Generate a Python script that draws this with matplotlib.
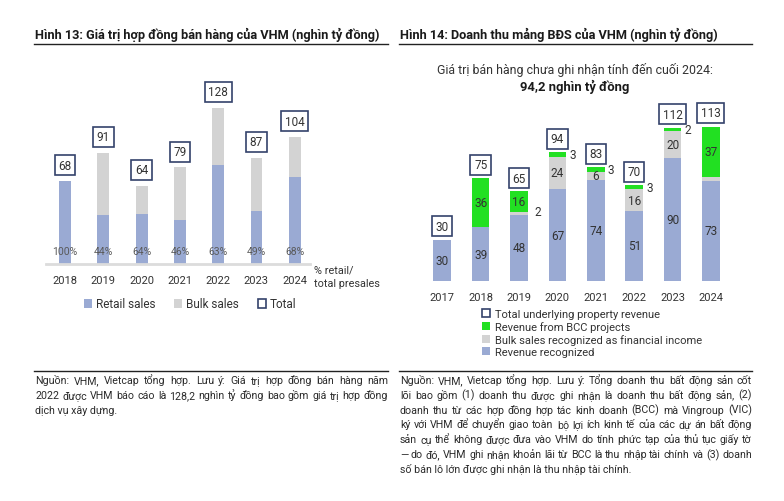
import matplotlib.pyplot as plt
from matplotlib.patches import Patch
from matplotlib.lines import Line2D

plt.rcParams['font.family'] = ['Roboto', 'DejaVu Sans']

# --- data: Hình 13 ---
years13 = ['2018', '2019', '2020', '2021', '2022', '2023', '2024']
total13 = [68, 91, 64, 79, 128, 87, 104]
retail13 = [68, 40, 41, 36, 81, 43, 71]
bulk13 = [t - r for t, r in zip(total13, retail13)]
pct13 = ['100%', '44%', '64%', '46%', '63%', '49%', '68%']

# --- data: Hình 14 ---
years14 = ['2017', '2018', '2019', '2020', '2021', '2022', '2023', '2024']
recog14 = [30, 39, 48, 67, 74, 51, 90, 73]
bulk14 = [0, 0, 2, 24, 6, 16, 20, 3]
bcc14 = [0, 36, 16, 3, 3, 3, 2, 37]
total14 = [30, 75, 65, 94, 83, 70, 112, 113]

C_BLUE = '#9aaad3'
C_GRAY = '#d3d3d3'
C_GREEN = '#22e022'
C_EDGE = '#34426b'
C_TXT = '#333333'

W, H = 784, 502
fig = plt.figure(figsize=(W / 100, H / 100), dpi=100)
renderer = fig.canvas.get_renderer()


def px(x, y, w, h):
    # pixel box (top-left origin) -> figure fraction
    return [x / W, 1 - (y + h) / H, w / W, h / H]


def fx(x):
    return x / W


def fy(y):
    return 1 - y / H


def justified(lines, x0, x1, y0, step, size):
    # chú thích căn đều hai bên như bản gốc
    for k, line in enumerate(lines):
        y = fy(y0 + k * step)
        if k == len(lines) - 1:
            fig.text(fx(x0), y, line, fontsize=size, color='#2a2a2a', va='baseline')
            continue
        words = line.split(' ')
        texts = [fig.text(0, y, w, fontsize=size, color='#2a2a2a', va='baseline') for w in words]
        widths = [t.get_window_extent(renderer).width for t in texts]
        gap = (x1 - x0 - sum(widths)) / (len(words) - 1)
        x = x0
        for t, wd in zip(texts, widths):
            t.set_x(fx(x))
            x += wd + gap


box = dict(boxstyle='square,pad=0.3', fc='white', ec=C_EDGE, lw=1.2)

# titles and rules
fig.text(fx(35), fy(35), 'Hình 13: Giá trị hợp đồng bán hàng của VHM (nghìn tỷ đồng)',
         fontsize=9.2, fontweight='bold', color='#1a1a1a', va='center', ha='left')
fig.text(fx(400), fy(35), 'Hình 14: Doanh thu mảng BĐS của VHM (nghìn tỷ đồng)',
         fontsize=9.2, fontweight='bold', color='#1a1a1a', va='center', ha='left')
for x0, x1 in [(34, 388), (399, 752)]:
    for yy in (45, 372):
        fig.add_artist(Line2D([fx(x0), fx(x1)], [fy(yy), fy(yy)], color='#222222', lw=1.0))

# ---------------- left chart ----------------
ax1 = fig.add_axes(px(46, 100, 264, 165))
xs = range(len(years13))
ax1.bar(xs, retail13, width=0.31, color=C_BLUE)
ax1.bar(xs, bulk13, width=0.31, bottom=retail13, color=C_GRAY)
ax1.set_xlim(-0.5, 6.4)
ax1.set_ylim(0, 135)
for i in xs:
    ax1.text(i, total13[i] + 13, str(total13[i]), ha='center', va='center',
             fontsize=8.5, color=C_TXT, bbox=box)
    ax1.text(i, 10.5, pct13[i], ha='center', va='center', fontsize=7.5, color='#5a5a5a')
ax1.set_xticks(list(xs))
ax1.set_xticklabels(years13, fontsize=8, color=C_TXT)
ax1.tick_params(length=0, pad=8)
ax1.set_yticks([])
for s in ['top', 'right', 'left']:
    ax1.spines[s].set_visible(False)
ax1.spines['bottom'].set_color('#dcdcdc')
ax1.spines['bottom'].set_linewidth(2)
fig.text(fx(314), fy(277), '% retail/\ntotal presales', fontsize=7.8, color=C_TXT,
         va='center', ha='left', linespacing=1.45)

leg1 = [Patch(fc=C_BLUE, label='Retail sales'),
        Patch(fc=C_GRAY, label='Bulk sales'),
        Patch(fc='white', ec=C_EDGE, lw=1.2, label='Total')]
fig.legend(handles=leg1, loc='center', bbox_to_anchor=(fx(190), fy(305)), ncol=3,
           frameon=False, fontsize=8.5, handlelength=0.7, handleheight=0.7,
           handletextpad=0.3, columnspacing=1.6, labelcolor=C_TXT)

# ---------------- right chart ----------------
ax2 = fig.add_axes(px(420, 118, 314, 163.7))
xs2 = range(len(years14))
bw = 0.46
bot2 = [r + b for r, b in zip(recog14, bulk14)]
ax2.bar(xs2, recog14, width=bw, color=C_BLUE)
ax2.bar(xs2, bulk14, width=bw, bottom=recog14, color=C_GRAY)
ax2.bar(xs2, bcc14, width=bw, bottom=bot2, color=C_GREEN)
ax2.set_xlim(-0.58, 7.6)
ax2.set_ylim(0, 120)
for i in xs2:
    ax2.text(i, recog14[i] / 2, str(recog14[i]), ha='center', va='center', fontsize=8.5, color=C_TXT)
    if bulk14[i] >= 5:
        ax2.text(i, recog14[i] + bulk14[i] / 2, str(bulk14[i]), ha='center', va='center',
                 fontsize=8.5, color=C_TXT)
    if bcc14[i] >= 5:
        ax2.text(i, bot2[i] + bcc14[i] / 2, str(bcc14[i]), ha='center', va='center',
                 fontsize=8.5, color=C_TXT)
    elif bcc14[i] > 0:
        ax2.text(i + bw / 2 + 0.08, bot2[i] + bcc14[i] / 2, str(bcc14[i]), ha='left', va='center',
                 fontsize=8.5, color=C_TXT)
    if 0 < bulk14[i] < 5 and bcc14[i] >= 5 and i < 7:
        ax2.text(i + bw / 2 + 0.17, recog14[i] + 2.5, str(bulk14[i]), ha='left', va='center',
                 fontsize=8.5, color=C_TXT)
    ax2.text(i, total14[i] + 10, str(total14[i]), ha='center', va='center',
             fontsize=8.5, color=C_TXT, bbox=box, clip_on=False)
ax2.set_xticks(list(xs2))
ax2.set_xticklabels(years14, fontsize=8, color=C_TXT)
ax2.tick_params(length=0, pad=8)
ax2.set_yticks([])
for s in ax2.spines.values():
    s.set_visible(False)

fig.text(fx(575), fy(70), 'Giá trị bán hàng chưa ghi nhận tính đến cuối 2024:', fontsize=8.9,
         color=C_TXT, ha='center', va='center')
fig.text(fx(575), fy(87), '94,2 nghìn tỷ đồng', fontsize=9.4, fontweight='bold',
         color='#1a1a1a', ha='center', va='center')

leg2 = [Patch(fc='white', ec=C_EDGE, lw=1.2, label='Total underlying property revenue'),
        Patch(fc=C_GREEN, label='Revenue from BCC projects'),
        Patch(fc=C_GRAY, label='Bulk sales recognized as financial income'),
        Patch(fc=C_BLUE, label='Revenue recognized')]
fig.legend(handles=leg2, loc='upper left', bbox_to_anchor=(fx(476), fy(304)), ncol=1,
           frameon=False, fontsize=8, handlelength=0.8, handleheight=0.7,
           handletextpad=0.4, labelspacing=0.2, labelcolor=C_TXT, borderpad=0)

# ---------------- footnotes ----------------
note13 = ['Nguồn: VHM, Vietcap tổng hợp. Lưu ý: Giá trị hợp đồng bán hàng năm',
          '2022 được VHM báo cáo là 128,2 nghìn tỷ đồng bao gồm giá trị hợp đồng',
          'dịch vụ xây dựng.']
note14 = ['Nguồn: VHM, Vietcap tổng hợp. Lưu ý: Tổng doanh thu bất động sản cốt',
          'lõi bao gồm (1) doanh thu được ghi nhận là doanh thu bất động sản, (2)',
          'doanh thu từ các hợp đồng hợp tác kinh doanh (BCC) mà Vingroup (VIC)',
          'ký với VHM để chuyển giao toàn bộ lợi ích kinh tế của các dự án bất động',
          'sản cụ thể không được đưa vào VHM do tính phức tạp của thủ tục giấy tờ',
          '— do đó, VHM ghi nhận khoản lãi từ BCC là thu nhập tài chính và (3) doanh',
          'số bán lô lớn được ghi nhận là thu nhập tài chính.']
justified(note13, 35, 388, 384, 14.8, 7.7)
justified(note14, 400, 752, 384, 14.8, 7.7)

fig.savefig('out.png', dpi=100, facecolor='white')
